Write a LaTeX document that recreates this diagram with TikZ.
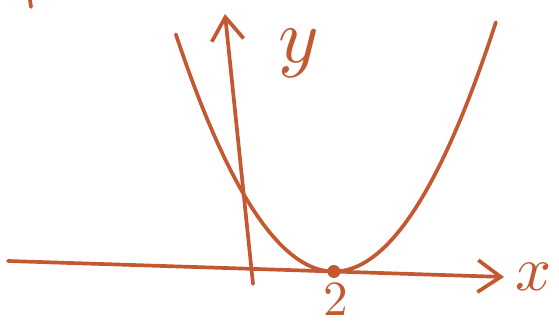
\documentclass[tikz,border=0pt]{standalone}
\usepackage{amsmath,amssymb}
\usetikzlibrary{arrows.meta, calc, positioning}
\usepackage{xcolor}
\definecolor{pen}{RGB}{196,88,48}

\begin{document}
\begin{tikzpicture}[line cap=round,line join=round,>={Straight Barb[length=4.6mm,width=6.4mm]},x=0.02cm,y=0.02cm,
  pen line/.style={line width=2.1pt, color=pen},
  every node/.style={color=pen, inner sep=0pt}]
\useasboundingbox (0,0) rectangle (559,323);

% --- axes end points ---
\coordinate (xL) at (8,62);
\coordinate (xR) at (504,46);
\coordinate (yB) at (253,39);
\coordinate (yT) at (225,309);
% vertex of the parabola (x = 2), on the x axis
\coordinate (V) at ($(xL)!0.657!(xR)$);

% --- axes ---
\draw [pen line, ->] (xL) -- (xR);
\draw [pen line, ->] (yB) -- (yT);

% --- the parabola, touching the x axis at 2 ---
\draw [pen line, smooth, shift={(V)}] plot[domain=-15.8:16.2, samples=60] ({10*\x},{0.95*\x*\x});

% --- point and labels ---
\fill [color=pen] (V) circle (6.5);
\node (two) at (336,23) [scale=2.8] {$2$};
\node (lblx) at (534,46) [scale=3.6] {$x$};
\node (lbly) at (299,270) [scale=4.4] {$y$};

% stray stroke at the top edge
\coordinate (s1) at (30,323);
\coordinate (s2) at (31,316);
\draw [pen line] (s1) -- (s2);
\end{tikzpicture}
\end{document}
